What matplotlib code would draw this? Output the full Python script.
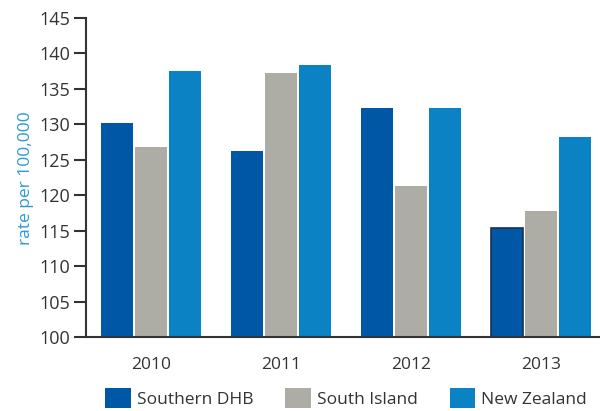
import numpy as np
import matplotlib.pyplot as plt

plt.rcParams['font.family'] = ['Open Sans', 'DejaVu Sans']

years = ["2010", "2011", "2012", "2013"]
southern = [130.2, 126.2, 132.3, 115.4]
south_island = [126.8, 137.2, 121.3, 117.8]
new_zealand = [137.6, 138.4, 132.3, 128.2]

series = ["Southern DHB", "South Island", "New Zealand"]
colors = ["#0057a6", "#adada5", "#0a82c3"]

fig = plt.figure(figsize=(6, 4.11), dpi=100)
ax = fig.add_axes([86/600, 1 - 337.3/411, 1 - 86/600, (337.3 - 18)/411])

x = np.arange(len(years))
w = 0.246
off = 0.2615
bars = []
for i, (vals, lab, c) in enumerate(zip([southern, south_island, new_zealand], series, colors)):
    b = ax.bar(x + (i - 1) * off, np.array(vals) - 100, w, bottom=100, color=c, label=lab)
    bars.append(b)

# last Southern DHB bar drawn with an outline
bars[0][3].set_edgecolor("#1a3050")
bars[0][3].set_linewidth(1.2)

ax.set_ylim(100, 145)
ax.set_xlim(-0.5, 3.45)
ax.set_yticks(np.arange(100, 146, 5))
ax.set_xticks(x)
ax.set_xticklabels(years)

for s in ["top", "right"]:
    ax.spines[s].set_visible(False)
ax.spines["left"].set_color("#333333")
ax.spines["bottom"].set_color("#333333")
ax.spines["left"].set_linewidth(1.5)
ax.spines["bottom"].set_linewidth(1.5)
ax.tick_params(axis="y", length=8.5, width=1.5, color="#333333", labelsize=13, labelcolor="#333333", pad=3)
ax.tick_params(axis="x", length=0, labelsize=12.5, labelcolor="#333333", pad=14)

ax.set_ylabel("rate per 100,000", color="#2a9ad6", fontsize=12.5, labelpad=4)

fig.legend(loc="center", bbox_to_anchor=(346/600, 1 - 398/411), ncol=3, frameon=False,
           fontsize=12.5, handlelength=1.45, handleheight=1.45, handletextpad=0.35,
           columnspacing=1.85, labelcolor="#333333")

fig.savefig("out.png", dpi=100)
